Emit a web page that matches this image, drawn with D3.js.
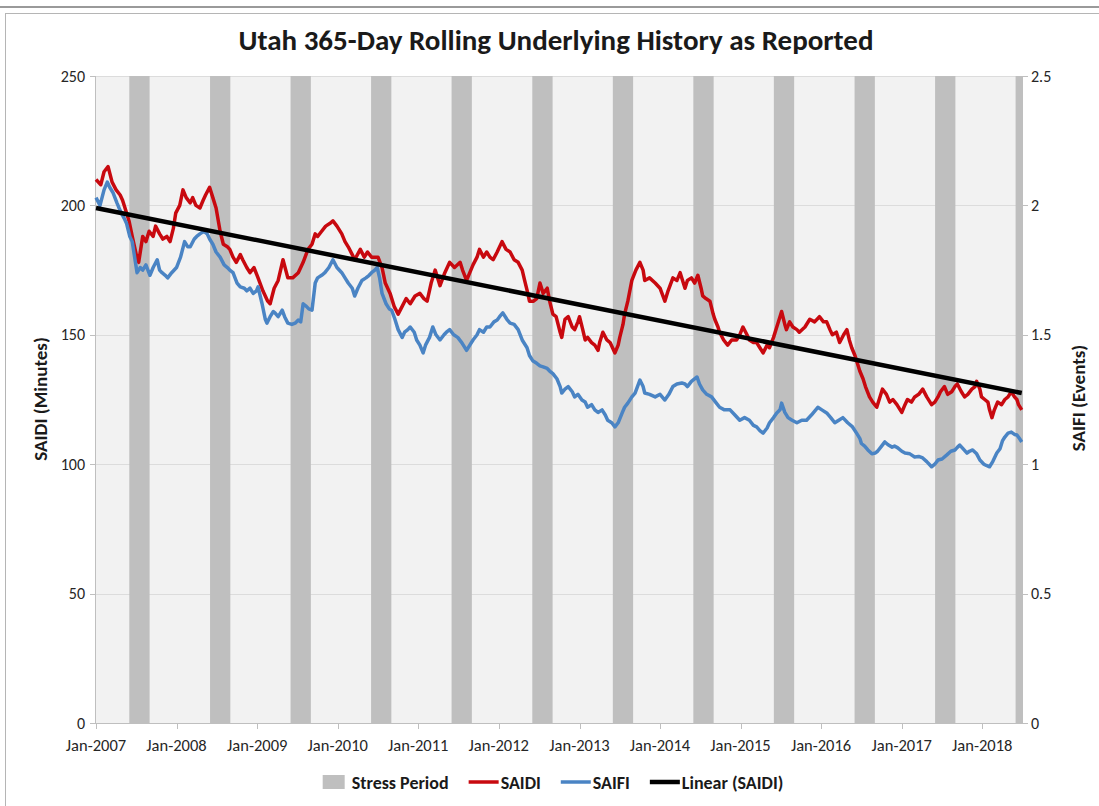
<!DOCTYPE html>
<html><head><meta charset="utf-8">
<script src="https://cdn.jsdelivr.net/npm/d3@7"></script>
<style>body{margin:0;background:#fff;} svg{display:block;font-family:Carlito,Calibri,Lato,sans-serif;}</style>
</head><body><svg id="c" width="1099" height="806"></svg>
<script>
// ---- data ----
const saidiYears = [2007.00,2007.06,2007.10,2007.15,2007.20,2007.25,2007.30,2007.33,2007.37,2007.41,2007.45,2007.50,2007.53,2007.58,2007.62,2007.66,2007.71,2007.74,2007.79,2007.83,2007.88,2007.92,2007.96,2007.99,
2008.04,2008.08,2008.12,2008.17,2008.20,2008.24,2008.29,2008.33,2008.36,2008.41,2008.45,2008.49,2008.54,2008.58,2008.63,2008.66,2008.70,2008.74,2008.79,2008.82,2008.87,2008.91,2008.96,
2009.01,2009.07,2009.13,2009.16,2009.21,2009.26,2009.32,2009.38,2009.44,2009.51,2009.57,2009.63,2009.68,2009.72,2009.75,2009.80,2009.85,2009.90,2009.94,2009.99,
2010.05,2010.09,2010.13,2010.18,2010.21,2010.28,2010.33,2010.37,2010.42,2010.50,2010.55,2010.59,2010.65,2010.70,2010.75,2010.80,2010.85,2010.90,2010.96,
2011.02,2011.07,2011.11,2011.16,2011.21,2011.27,2011.33,2011.39,2011.45,2011.52,2011.55,2011.60,2011.64,2011.68,2011.73,2011.76,2011.81,2011.85,2011.89,2011.93,2011.98,
2012.04,2012.09,2012.14,2012.19,2012.24,2012.29,2012.32,2012.36,2012.38,2012.43,2012.47,2012.51,2012.55,2012.60,2012.63,2012.67,2012.71,2012.76,2012.78,2012.82,2012.86,2012.91,2012.94,2012.98,
2013.00,2013.04,2013.07,2013.10,2013.15,2013.19,2013.23,2013.25,2013.29,2013.34,2013.38,2013.41,2013.44,2013.48,2013.50,2013.54,2013.56,2013.60,2013.65,2013.70,2013.75,2013.79,2013.81,2013.87,2013.94,
2014.00,2014.06,2014.10,2014.16,2014.21,2014.25,2014.28,2014.31,2014.34,2014.39,2014.43,2014.47,2014.51,2014.53,2014.57,2014.62,2014.66,2014.68,2014.72,2014.74,2014.79,2014.84,2014.89,2014.95,2014.99,
2015.03,2015.08,2015.11,2015.16,2015.20,2015.24,2015.28,2015.33,2015.36,2015.41,2015.45,2015.49,2015.51,2015.55,2015.57,2015.61,2015.65,2015.70,2015.73,2015.80,2015.86,2015.92,2015.98,
2016.03,2016.07,2016.11,2016.14,2016.19,2016.23,2016.28,2016.32,2016.35,2016.38,2016.42,2016.44,2016.48,2016.52,2016.55,2016.60,2016.64,2016.69,2016.73,2016.76,2016.81,2016.85,2016.89,2016.94,2016.98,
2017.00,2017.04,2017.07,2017.12,2017.16,2017.21,2017.26,2017.31,2017.37,2017.41,2017.45,2017.48,2017.53,2017.57,2017.62,2017.66,2017.69,2017.74,2017.78,2017.82,2017.87,2017.91,2017.93,2017.97,2017.99,
2018.03,2018.07,2018.09,2018.12,2018.15,2018.19,2018.24,2018.28,2018.32,2018.36,2018.40,2018.43,2018.45,2018.49];
const saidiValues = [210,208,213,215,209,206,204,202,198,194,188,181,178,188,186,190,188,192,189,187,188,186,191,197,
200,206,203,201,203,200,199,202,204,207,203,199,190,185,184,183,180,178,181,179,176,174,176,
172,167,163,162,168,171,179,172,172,174,178,183,185,189,188,190,192,193,194,192,
189,186,184,181,179,183,180,182,180,180,176,170,166,161,158,161,164,162,165,
166,164,163,170,175,169,174,178,176,178,175,171,174,177,180,183,180,182,180,179,182,
186,183,182,179,178,175,171,166,163,163,164,170,166,168,163,158,157,151,149,156,157,153,152,155,
157,152,148,149,147,146,144,147,151,148,147,145,143,146,149,154,158,163,171,175,178,175,171,172,170,
168,163,167,172,171,174,171,168,171,172,170,173,168,165,164,163,158,156,153,151,148,146,148,148,150,
153,150,148,147,147,145,143,146,145,149,153,157,159,154,152,155,153,152,151,153,156,155,157,
155,155,152,150,151,147,150,152,148,145,142,140,136,133,130,126,124,122,126,129,127,124,125,123,121,
120,123,125,124,126,127,129,126,123,124,126,128,130,127,128,130,131,128,126,127,129,130,132,129,126,
125,124,121,118,121,124,123,125,126,128,126,125,123,121];

const saifiYears = [2007.00,2007.05,2007.10,2007.14,2007.17,2007.21,2007.26,2007.30,2007.35,2007.38,2007.42,2007.45,2007.48,2007.51,2007.55,2007.58,2007.62,2007.67,2007.71,2007.76,2007.79,2007.82,2007.86,2007.89,2007.94,
2008.00,2008.05,2008.10,2008.14,2008.17,2008.22,2008.25,2008.29,2008.34,2008.38,2008.41,2008.45,2008.49,2008.54,2008.59,2008.63,2008.66,2008.70,2008.75,2008.79,2008.84,2008.87,2008.91,2008.95,2008.99,
2009.01,2009.06,2009.10,2009.12,2009.16,2009.20,2009.22,2009.26,2009.31,2009.34,2009.38,2009.43,2009.47,2009.51,2009.54,2009.57,2009.61,2009.64,2009.68,2009.72,2009.75,2009.80,2009.84,2009.89,2009.94,2009.99,
2010.05,2010.09,2010.13,2010.18,2010.21,2010.25,2010.30,2010.35,2010.39,2010.42,2010.46,2010.49,2010.52,2010.55,2010.60,2010.64,2010.67,2010.71,2010.75,2010.80,2010.83,2010.87,2010.90,2010.95,2010.98,
2011.02,2011.06,2011.09,2011.14,2011.18,2011.22,2011.27,2011.32,2011.35,2011.39,2011.44,2011.49,2011.54,2011.60,2011.64,2011.68,2011.73,2011.76,2011.81,2011.85,2011.89,2011.94,2011.98,
2012.01,2012.05,2012.10,2012.14,2012.19,2012.24,2012.29,2012.35,2012.38,2012.42,2012.47,2012.51,2012.55,2012.60,2012.63,2012.67,2012.72,2012.76,2012.78,2012.82,2012.86,2012.91,2012.94,2012.98,
2013.03,2013.07,2013.10,2013.15,2013.19,2013.23,2013.28,2013.32,2013.35,2013.40,2013.44,2013.48,2013.53,2013.56,2013.60,2013.65,2013.69,2013.72,2013.75,2013.79,2013.81,2013.87,2013.94,
2014.00,2014.06,2014.11,2014.16,2014.21,2014.27,2014.31,2014.34,2014.39,2014.46,2014.49,2014.53,2014.58,2014.64,2014.69,2014.74,2014.80,2014.87,2014.93,2014.99,
2015.05,2015.11,2015.16,2015.20,2015.24,2015.28,2015.33,2015.36,2015.41,2015.45,2015.49,2015.51,2015.55,2015.59,2015.64,2015.70,2015.76,2015.82,2015.88,2015.96,
2016.01,2016.07,2016.12,2016.17,2016.22,2016.27,2016.33,2016.39,2016.44,2016.48,2016.50,2016.54,2016.58,2016.63,2016.67,2016.70,2016.75,2016.79,2016.83,2016.88,2016.91,2016.95,
2017.00,2017.04,2017.10,2017.16,2017.21,2017.26,2017.31,2017.37,2017.41,2017.45,2017.50,2017.56,2017.61,2017.66,2017.69,2017.72,2017.76,2017.81,2017.84,2017.88,2017.93,2017.97,
2018.02,2018.05,2018.09,2018.13,2018.18,2018.22,2018.25,2018.28,2018.32,2018.36,2018.40,2018.43,2018.46,2018.49];
const saifiValues = [2.03,2.00,2.06,2.09,2.07,2.05,2.01,1.98,1.95,1.93,1.88,1.86,1.80,1.74,1.76,1.75,1.77,1.73,1.76,1.79,1.75,1.74,1.73,1.72,1.74,
1.76,1.80,1.86,1.84,1.84,1.87,1.88,1.89,1.90,1.89,1.87,1.85,1.82,1.80,1.77,1.76,1.75,1.74,1.70,1.685,1.68,1.67,1.68,1.66,1.67,
1.685,1.62,1.56,1.545,1.57,1.59,1.585,1.57,1.595,1.57,1.545,1.54,1.545,1.557,1.55,1.62,1.61,1.60,1.595,1.70,1.72,1.73,1.74,1.76,1.79,1.76,
1.74,1.72,1.70,1.68,1.65,1.68,1.71,1.72,1.73,1.74,1.75,1.76,1.72,1.66,1.62,1.60,1.595,1.56,1.52,1.49,1.51,1.52,1.53,1.51,1.48,
1.46,1.43,1.46,1.49,1.53,1.50,1.48,1.50,1.51,1.52,1.50,1.49,1.47,1.44,1.46,1.48,1.50,1.52,1.51,1.53,1.53,1.55,1.557,
1.57,1.585,1.56,1.545,1.54,1.52,1.48,1.45,1.42,1.40,1.39,1.38,1.376,1.37,1.36,1.35,1.33,1.30,1.275,1.29,1.30,1.28,1.26,1.27,
1.248,1.24,1.22,1.23,1.21,1.20,1.21,1.19,1.17,1.16,1.144,1.16,1.198,1.22,1.236,1.26,1.275,1.30,1.325,1.30,1.275,1.27,1.26,
1.27,1.248,1.27,1.30,1.31,1.314,1.31,1.30,1.32,1.337,1.31,1.287,1.27,1.26,1.24,1.22,1.21,1.21,1.19,1.17,
1.18,1.17,1.15,1.144,1.13,1.12,1.14,1.16,1.18,1.198,1.21,1.236,1.20,1.18,1.17,1.16,1.17,1.17,1.19,1.22,
1.21,1.198,1.18,1.16,1.17,1.18,1.16,1.144,1.12,1.10,1.08,1.07,1.055,1.04,1.043,1.05,1.07,1.086,1.075,1.066,1.07,1.063,
1.05,1.043,1.04,1.028,1.03,1.024,1.01,0.99,1.00,1.016,1.02,1.036,1.05,1.055,1.065,1.074,1.06,1.043,1.05,1.055,1.04,1.016,
1.00,0.995,0.99,1.01,1.043,1.06,1.09,1.105,1.12,1.124,1.115,1.113,1.10,1.086];

const trendYears = [2007.00, 2018.49];
const trendValues = [199, 127.5];

const stressStarts = ["2007-06-01","2008-06-01","2009-06-01","2010-06-01","2011-06-01","2012-06-01","2013-06-01","2014-06-01","2015-06-01","2016-06-01","2017-06-01","2018-06-01"];
const stressEnds   = ["2007-09-01","2008-09-01","2009-09-01","2010-09-01","2011-09-01","2012-09-01","2013-09-01","2014-09-01","2015-09-01","2016-09-01","2017-09-01","2018-07-01"];

const leftTicks = [0, 50, 100, 150, 200, 250];
const rightTicks = [0, 0.5, 1, 1.5, 2, 2.5];
const xTickYears = [2007,2008,2009,2010,2011,2012,2013,2014,2015,2016,2017,2018];

const titleText = "Utah 365-Day Rolling Underlying History as Reported";
const legendLabels = ["Stress Period", "SAIDI", "SAIFI", "Linear (SAIDI)"];

// ---- helpers ----
function yd(y) {
  const yr = Math.floor(y + 1e-9);
  const s = new Date(yr, 0, 1), e = new Date(yr + 1, 0, 1);
  return new Date(+s + (y - yr) * (e - s));
}
const parse = d3.timeParse("%Y-%m-%d");

// ---- layout ----
const svg = d3.select("#c");
const L = 96, R = 1022, T = 76, B = 723;
const x = d3.scaleTime().domain([new Date(2007,0,1), new Date(2018,5,30)]).range([L, R]);
const yL = d3.scaleLinear().domain([0, 250]).range([B, T]);
const yR = d3.scaleLinear().domain([0, 2.5]).range([B, T]);
const RED = "#c8090f", BLUE = "#4a84c4";

// frame
svg.append("rect").attr("x",0).attr("y",0).attr("width",1099).attr("height",806).attr("fill","#fff");
svg.append("line").attr("x1",0).attr("x2",1099).attr("y1",7).attr("y2",7).attr("stroke","#9a9a9a").attr("stroke-width",2);
svg.append("rect").attr("x",5.5).attr("y",13.5).attr("width",1200).attr("height",900).attr("fill","none").attr("stroke","#b5b5b5");

// title
svg.append("text").attr("x",556).attr("y",50).attr("text-anchor","middle")
  .attr("font-size",29).attr("font-weight","bold").attr("fill","#1a1a1a").text(titleText);

// plot background
svg.append("rect").attr("x",L).attr("y",T).attr("width",R-L).attr("height",B-T).attr("fill","#f2f2f2");

// gridlines
svg.append("g").selectAll("line").data(leftTicks.filter(d=>d>0)).join("line")
  .attr("x1",L).attr("x2",R).attr("y1",d=>Math.round(yL(d))+0.5).attr("y2",d=>Math.round(yL(d))+0.5)
  .attr("stroke","#dcdcdc").attr("stroke-width",1);

// stress bars
svg.append("g").selectAll("rect").data(stressStarts.map((s,i)=>[parse(s), parse(stressEnds[i])])).join("rect")
  .attr("x",d=>x(d[0])).attr("width",d=>Math.min(x(d[1]),R)-x(d[0]))
  .attr("y",yL(250)).attr("height",yL(0)-yL(250)).attr("fill","#bfbfbf");

// axes
const axisG = svg.append("g").attr("fill","#262626");
axisG.append("line").attr("x1",L-0.5).attr("x2",L-0.5).attr("y1",T).attr("y2",B).attr("stroke","#bfbfbf");
axisG.append("line").attr("x1",R+0.5).attr("x2",R+0.5).attr("y1",T).attr("y2",B).attr("stroke","#bfbfbf");
axisG.append("line").attr("x1",L-5).attr("x2",R+5).attr("y1",B+0.5).attr("y2",B+0.5).attr("stroke","#bfbfbf");
axisG.selectAll(".lt").data(leftTicks).join("line").attr("class","lt")
  .attr("x1",L-6).attr("x2",L).attr("y1",d=>Math.round(yL(d))+0.5).attr("y2",d=>Math.round(yL(d))+0.5).attr("stroke","#bfbfbf");
axisG.selectAll(".ll").data(leftTicks).join("text").attr("class","ll").attr("font-size",16)
  .attr("x",L-11).attr("y",d=>yL(d)+5.5).attr("text-anchor","end").text(d=>d);
axisG.selectAll(".rt").data(rightTicks).join("line").attr("class","rt")
  .attr("x1",R).attr("x2",R+6).attr("y1",d=>Math.round(yR(d))+0.5).attr("y2",d=>Math.round(yR(d))+0.5).attr("stroke","#bfbfbf");
axisG.selectAll(".rl").data(rightTicks).join("text").attr("class","rl").attr("font-size",16)
  .attr("x",R+9).attr("y",d=>yR(d)+5.5).attr("text-anchor","start").text(d=>d);
axisG.selectAll(".xt").data(xTickYears).join("line").attr("class","xt")
  .attr("x1",d=>Math.round(x(new Date(d,0,1)))+0.5).attr("x2",d=>Math.round(x(new Date(d,0,1)))+0.5)
  .attr("y1",B).attr("y2",B+6).attr("stroke","#bfbfbf");
axisG.selectAll(".xl").data(xTickYears).join("text").attr("class","xl").attr("font-size",16.5)
  .attr("x",d=>x(new Date(d,0,1))).attr("y",B+28).attr("text-anchor","middle")
  .text(d=>d3.timeFormat("%b-%Y")(new Date(d,0,1)));

// axis titles
svg.append("text").attr("transform","translate(47,399) rotate(-90)").attr("text-anchor","middle")
  .attr("font-size",19).attr("font-weight","bold").attr("fill","#1a1a1a").text("SAIDI (Minutes)");
svg.append("text").attr("transform","translate(1085,398) rotate(-90)").attr("text-anchor","middle")
  .attr("font-size",19).attr("font-weight","bold").attr("fill","#1a1a1a").text("SAIFI (Events)");

// series
const saidi = saidiYears.map((t,i)=>({d:yd(t), v:saidiValues[i]}));
const saifi = saifiYears.map((t,i)=>({d:yd(t), v:saifiValues[i]}));
const trend = trendYears.map((t,i)=>({d:yd(t), v:trendValues[i]}));

svg.append("path").datum(saidi).attr("fill","none").attr("stroke",RED).attr("stroke-width",3.5).attr("stroke-linejoin","round")
  .attr("d", d3.line().x(d=>x(d.d)).y(d=>yL(d.v)));
svg.append("path").datum(saifi).attr("fill","none").attr("stroke",BLUE).attr("stroke-width",3.5).attr("stroke-linejoin","round")
  .attr("d", d3.line().x(d=>x(d.d)).y(d=>yR(d.v)));
svg.append("path").datum(trend).attr("fill","none").attr("stroke","#000").attr("stroke-width",4.5)
  .attr("d", d3.line().x(d=>x(d.d)).y(d=>yL(d.v)));

// legend (laid out from measured text widths, centred)
const lg = svg.append("g").attr("font-size",18).attr("font-weight","bold").attr("fill","#1a1a1a");
const items = [
  {type:"rect", color:"#bfbfbf", label:legendLabels[0]},
  {type:"line", color:RED, w:3.5, label:legendLabels[1]},
  {type:"line", color:BLUE, w:3.5, label:legendLabels[2]},
  {type:"line", color:"#000", w:4.5, label:legendLabels[3]}
];
let cx = 0;
const parts = [];
items.forEach((it,i)=>{
  const g = lg.append("g");
  if (it.type==="rect") {
    g.append("rect").attr("x",0).attr("y",-7).attr("width",22).attr("height",14).attr("fill",it.color);
  } else {
    g.append("line").attr("x1",0).attr("x2",30).attr("y1",0).attr("y2",0).attr("stroke",it.color).attr("stroke-width",it.w);
  }
  const sym = it.type==="rect" ? 22 : 30;
  const gap = it.type==="rect" ? 7 : 2;
  const t = g.append("text").attr("x",sym+gap).attr("y",6.5).text(it.label);
  const w = sym + gap + t.node().getComputedTextLength();
  parts.push({g, off:cx});
  cx += w + 20;
});
const total = cx - 20;
const start = 553 - total/2;
parts.forEach(p=>p.g.attr("transform",`translate(${start+p.off},782)`));
</script></body></html>
